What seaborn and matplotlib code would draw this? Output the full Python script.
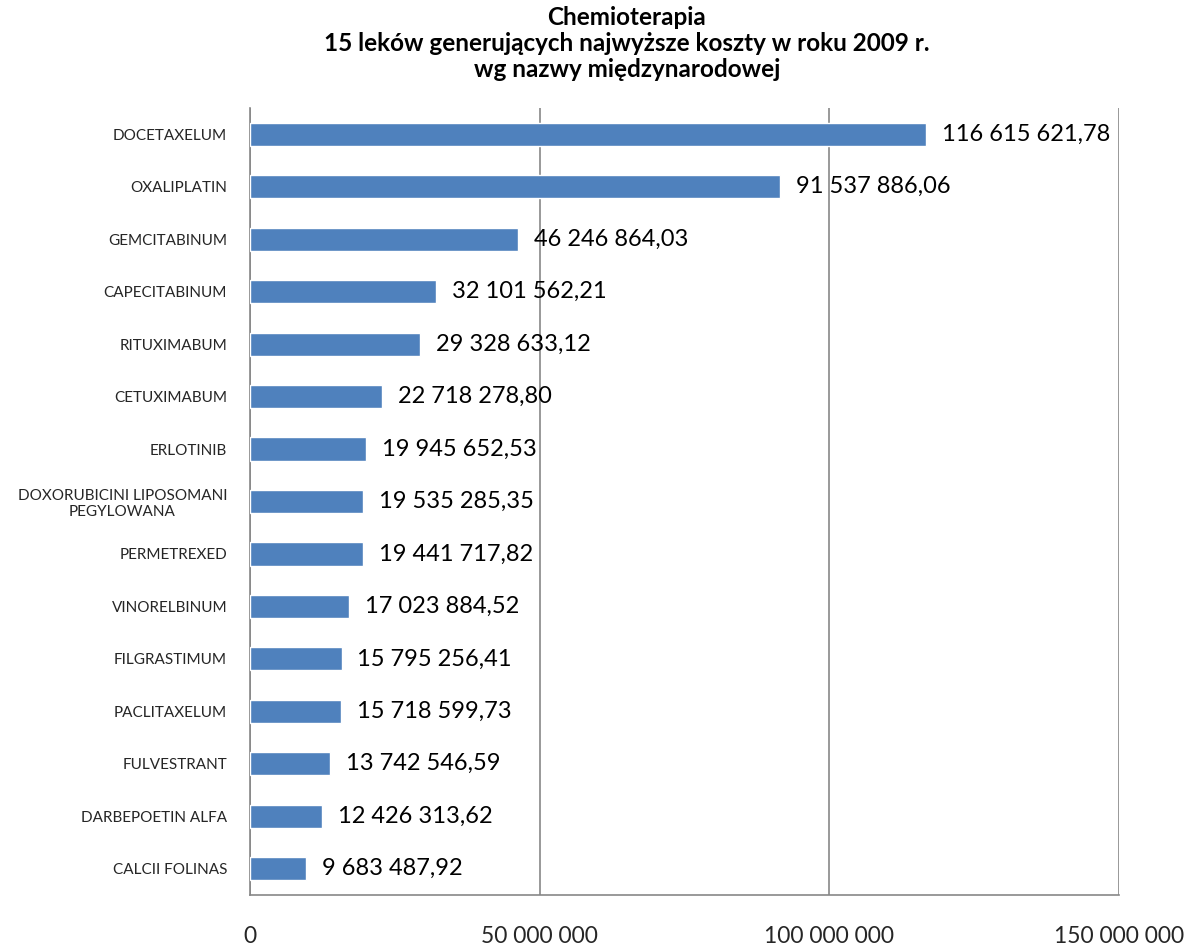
import matplotlib
matplotlib.use("Agg")
import matplotlib.pyplot as plt
import seaborn as sns
import pandas as pd
import numpy as np
from matplotlib.ticker import FixedLocator

drugs = ["DOCETAXELUM", "OXALIPLATIN", "GEMCITABINUM", "CAPECITABINUM", "RITUXIMABUM",
         "CETUXIMABUM", "ERLOTINIB", "DOXORUBICINI LIPOSOMANI\nPEGYLOWANA", "PERMETREXED",
         "VINORELBINUM", "FILGRASTIMUM", "PACLITAXELUM", "FULVESTRANT", "DARBEPOETIN ALFA",
         "CALCII FOLINAS"]
costs = [116615621.78, 91537886.06, 46246864.03, 32101562.21, 29328633.12,
         22718278.80, 19945652.53, 19535285.35, 19441717.82, 17023884.52,
         15795256.41, 15718599.73, 13742546.59, 12426313.62, 9683487.92]
xticks = [0, 50000000, 100000000, 150000000]
xtick_labels = ["0", "50 000 000", "100 000 000", "150 000 000"]

sns.set_style("white")
plt.rcParams['font.family'] = ['Lato', 'DejaVu Sans']

df = pd.DataFrame({"drug": drugs, "cost": costs})

fig = plt.figure(figsize=(11.87, 9.46), dpi=100)
ax = fig.add_axes([250/1187, 1-895/946, (1119-250)/1187, (895-108)/946])

sns.barplot(data=df, y="drug", x="cost", orient="h", color="#4F81BD",
            saturation=1, width=0.44, ax=ax, zorder=3)

ax.set_xlim(0, 150000000)
ax.set_ylim(len(drugs)-0.5, -0.5)
ax.set_xticks(xticks)
ax.set_xticklabels(xtick_labels, fontsize=16.5)
ax.tick_params(axis='x', length=8, width=1.2, color='#878787', pad=14.5, direction='out')
ax.tick_params(axis='y', which='major', length=0, labelsize=11, pad=16.5)
ax.yaxis.set_minor_locator(FixedLocator(np.arange(-0.5, len(drugs), 1)))
ax.tick_params(axis='y', which='minor', length=6, width=1.2, color='#878787', direction='out')
for lbl in ax.get_yticklabels():
    lbl.set_multialignment('center')
ax.set_xlabel("")
ax.set_ylabel("")
ax.grid(axis='x', color='#878787', linewidth=1.2, zorder=0)
ax.grid(axis='y', visible=False)
for s in ['top', 'right']:
    ax.spines[s].set_visible(False)
for s in ['left', 'bottom']:
    ax.spines[s].set_color('#878787')
    ax.spines[s].set_linewidth(1.2)

def fmt(v):
    s = f"{v:,.2f}"
    intpart, dec = s.split(".")
    return intpart.replace(",", " ") + "," + dec

for i, v in enumerate(costs):
    ax.annotate(fmt(v), xy=(v, i), xytext=(11.5, 0), textcoords='offset points',
                ha='left', va='center', fontsize=17, color='black', zorder=5,
                annotation_clip=False)

fig.text(627/1187, 1-6/946, "Chemioterapia\n15 leków generujących najwyższe koszty w roku 2009 r.\nwg nazwy międzynarodowej",
         ha='center', va='top', fontsize=17.5, fontweight='bold', linespacing=1.16,
         color='black')

fig.savefig("out.png", dpi=100)
